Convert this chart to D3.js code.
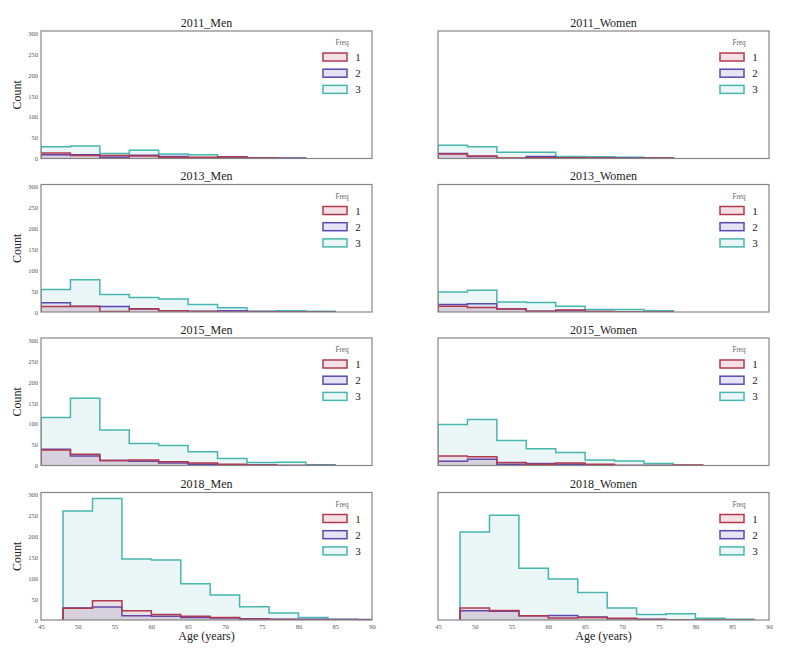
<!DOCTYPE html>
<html><head><meta charset="utf-8">
<script src="https://cdn.jsdelivr.net/npm/d3@7"></script>
<style>body{margin:0;background:#fff}svg{display:block}text{font-family:"Liberation Serif","Times New Roman",serif}</style>
</head><body><svg id="c" width="794" height="658"></svg>
<script>
// ---- data ----
const panelTitles = ["2011_Men","2011_Women","2013_Men","2013_Women","2015_Men","2015_Women","2018_Men","2018_Women"];
const binStarts   = [45,45,45,45,45,45,48,48];   // first bin edge (years)
const binWidth = 4;
const freqLevels = ["1","2","3"];
const xTicks = [45,50,55,60,65,70,75,80,85,90];
const yTicks = [0,50,100,150,200,250,300];

const m2011_f1 = [13,7,7,6,3,3,4,1,0];
const m2011_f2 = [9,9,3,8,5,2,1,1,1];
const m2011_f3 = [28,30,12,20,11,9,3,1,0];
const w2011_f1 = [11,6,1,2,2,1,0,1];
const w2011_f2 = [12,5,0,5,2,1,1,0];
const w2011_f3 = [32,28,15,15,5,4,3,2];
const m2013_f1 = [13,13,1,7,3,1,0,0,0,0];
const m2013_f2 = [22,14,13,8,3,2,3,1,0,0];
const m2013_f3 = [54,77,42,35,31,18,10,2,3,2];
const w2013_f1 = [14,11,7,2,5,1,0,0];
const w2013_f2 = [18,20,7,2,3,1,0,0];
const w2013_f3 = [48,52,24,23,14,6,6,3];
const m2015_f1 = [37,27,12,13,9,6,3,1,0,0];
const m2015_f2 = [39,23,12,10,6,3,2,1,0,0];
const m2015_f3 = [115,161,85,53,48,33,17,7,8,2];
const w2015_f1 = [23,21,7,3,6,3,0,0,1];
const w2015_f2 = [10,15,3,5,3,2,0,0,0];
const w2015_f3 = [98,110,60,40,31,13,11,5,0];
const m2018_f1 = [28,46,22,13,9,6,2,1,0,0,0];
const m2018_f2 = [29,31,10,9,6,5,3,2,2,1,1];
const m2018_f3 = [261,291,146,144,87,60,32,17,6,2,0];
const w2018_f1 = [29,23,10,5,6,4,1,0,0,0];
const w2018_f2 = [22,21,10,11,7,3,2,0,0,0];
const w2018_f3 = [211,251,124,98,66,29,13,15,4,2];

const panelSeries = [
  [m2011_f1,m2011_f2,m2011_f3],[w2011_f1,w2011_f2,w2011_f3],
  [m2013_f1,m2013_f2,m2013_f3],[w2013_f1,w2013_f2,w2013_f3],
  [m2015_f1,m2015_f2,m2015_f3],[w2015_f1,w2015_f2,w2015_f3],
  [m2018_f1,m2018_f2,m2018_f3],[w2018_f1,w2018_f2,w2018_f3]
];

// ---- style / layout ----
const colors = ["#b3384e","#5a49b3","#47b6ae"];
const colLeft = [41, 438], plotW = 331;
const rowTop = [31, 184.5, 338, 492.5], plotH = 127.5;

const svg = d3.select("#c");
const yMax = d3.max(panelSeries.flat(2)) * 1.05;

panelTitles.forEach((title, i) => {
  const col = i % 2, row = Math.floor(i / 2);
  const x0 = colLeft[col], y0 = rowTop[row];
  const x = d3.scaleLinear().domain([45, 90]).range([x0, x0 + plotW]);
  const y = d3.scaleLinear().domain([0, yMax]).range([y0 + plotH, y0]);
  const g = svg.append("g");
  const clipId = "clip" + i;
  g.append("clipPath").attr("id", clipId).append("rect")
    .attr("x", x0).attr("y", y0).attr("width", plotW).attr("height", plotH);
  const body = g.append("g").attr("clip-path", `url(#${clipId})`);

  // draw level 3 first, level 1 last (on top)
  [2,1,0].forEach(k => {
    const vals = panelSeries[i][k];
    const s = binStarts[i];
    const pts = [[s, 0]];
    vals.forEach((v, j) => { pts.push([s + j*binWidth, v]); pts.push([s + (j+1)*binWidth, v]); });
    pts.push([s + vals.length*binWidth, 0]);
    const line = d3.line().x(d => x(d[0])).y(d => y(d[1]));
    body.append("path").attr("d", line(pts) + "Z")
      .attr("fill", colors[k]).attr("fill-opacity", 0.11).attr("stroke", "none");
    body.append("path").attr("d", line(pts))
      .attr("fill", "none").attr("stroke", colors[k]).attr("stroke-width", 1.5)
      .attr("stroke-linejoin", "miter");
  });

  // frame
  g.append("rect").attr("x", x0).attr("y", y0).attr("width", plotW).attr("height", plotH)
    .attr("fill", "none").attr("stroke", "#858585").attr("stroke-width", 1.2);

  // title
  g.append("text").attr("x", x0 + plotW/2).attr("y", y0 - 4.5).attr("text-anchor", "middle")
    .attr("font-size", 12).attr("fill", "#222").text(title);

  // y axis (left column only)
  if (col === 0) {
    const ya = d3.axisLeft(y).tickValues(yTicks).tickSize(0).tickPadding(3);
    const ag = g.append("g").attr("transform", `translate(${x0},0)`).call(ya);
    ag.select(".domain").remove();
    ag.selectAll("text").attr("font-size", 6.5).attr("fill", "#555")
      .attr("font-family", '"Liberation Serif",serif');
    g.append("text").attr("transform", `translate(21,${y0 + plotH/2}) rotate(-90)`)
      .attr("text-anchor", "middle").attr("font-size", 12).attr("fill", "#222").text("Count");
  }
  // x axis (bottom row only)
  if (row === 3) {
    const xa = d3.axisBottom(x).tickValues(xTicks).tickSize(0).tickPadding(4);
    const ag = g.append("g").attr("transform", `translate(0,${y0 + plotH})`).call(xa);
    ag.select(".domain").remove();
    ag.selectAll("text").attr("font-size", 6.5).attr("fill", "#555")
      .attr("font-family", '"Liberation Serif",serif');
    g.append("text").attr("x", x0 + plotW/2).attr("y", 640).attr("text-anchor", "middle")
      .attr("font-size", 12).attr("fill", "#222").text("Age (years)");
  }

  // legend
  const xr = x0 + plotW;
  const lg = g.append("g");
  lg.append("text").attr("x", xr - 30).attr("y", y0 + 14).attr("text-anchor", "middle")
    .attr("font-size", 7.2).attr("fill", "#666").text("Freq");
  freqLevels.forEach((lab, k) => {
    const cy = y0 + 26 + k * 16.2;
    lg.append("rect").attr("x", xr - 49).attr("y", cy - 4).attr("width", 24).attr("height", 8)
      .attr("fill", colors[k]).attr("fill-opacity", k === 2 ? 0.11 : 0.15)
      .attr("stroke", colors[k]).attr("stroke-width", 1.5);
    lg.append("text").attr("x", xr - 14).attr("y", cy + 4).attr("text-anchor", "middle")
      .attr("font-size", 11).attr("fill", "#222").text(lab);
  });
});
</script></body></html>
